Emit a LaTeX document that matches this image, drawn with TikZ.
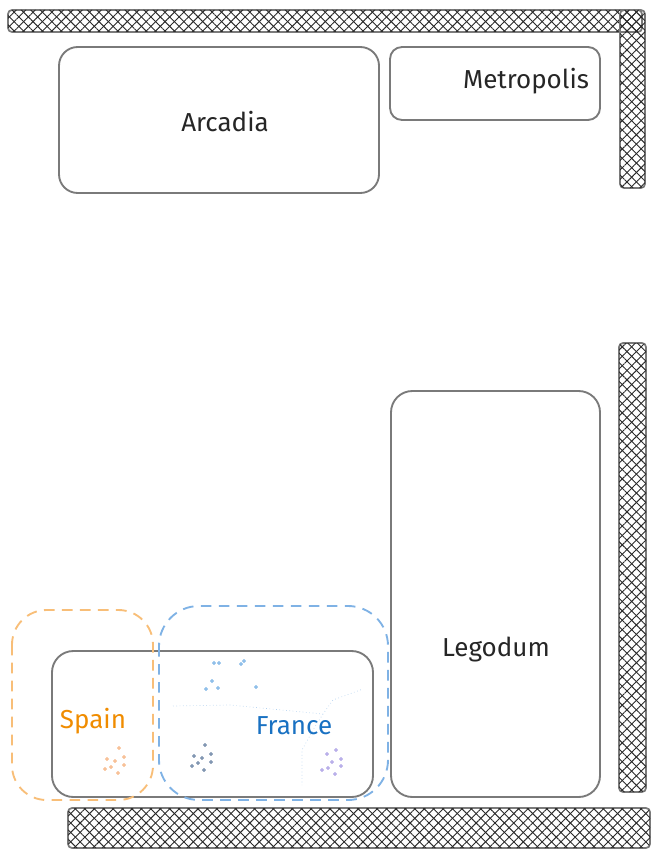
\documentclass[tikz,border=0pt]{standalone}
\usepackage{fontspec}
\setmainfont{Fira Sans}
\usetikzlibrary{patterns.meta}
\definecolor{edge}{HTML}{7A7A7A}
\definecolor{hatchc}{HTML}{2A2A2A}
\definecolor{spainc}{HTML}{F08C00}
\definecolor{francec}{HTML}{1971C2}
\definecolor{spaind}{HTML}{F8BE78}
\definecolor{franced}{HTML}{7FB2E5}
\definecolor{dotlb}{HTML}{5EA3E0}
\definecolor{dotdk}{HTML}{4A6890}
\definecolor{dotpu}{HTML}{9B8CE0}
\definecolor{dotor}{HTML}{F5A66A}
\tikzset{
  wall/.style={draw=edge, line width=1.3pt, rounded corners=3pt,
    postaction={pattern={Lines[angle=45,distance=5pt,line width=0.7pt]},pattern color=hatchc},
    postaction={pattern={Lines[angle=-45,distance=5pt,line width=0.7pt]},pattern color=hatchc}},
  room/.style={draw=edge, line width=1.4pt, rounded corners=#1},
  room/.default=18pt,
  label/.style={font=\fontsize{19.5}{22}\selectfont, text=black!85},
  region/.style={dash pattern=on 8pt off 5.5pt, line width=1.4pt, rounded corners=26pt},
  dot/.style={draw=#1, line width=0.5pt, fill=#1!40},
  divider/.style={draw=franced!60, dotted, line width=0.5pt},
}
\begin{document}
\begin{tikzpicture}[x=0.75pt, y=-0.75pt]
\useasboundingbox (0,0) rectangle (660,856);
% walls
\path[wall] (8,10) rectangle (642,32);
\path[wall] (620,10) rectangle (645,188);
\path[wall] (619,343) rectangle (646,792);
\path[wall] (68,808) rectangle (650,848);
% rooms
\draw[room=14pt] (59,47) rectangle (379,193);
\node[label] (arcadia) at (225,122) {Arcadia};
\draw[room=9pt] (390,47) rectangle (600,120);
\node[label] (metro) at (526,81) {Metropolis};
\draw[room=16pt] (391,391) rectangle (600,797);
\node[label] (legodum) at (496,650) {Legodum};
\draw[room=16pt] (52,651) rectangle (373,797);
% dividers
\coordinate (d1) at (173,706);
\coordinate (d2) at (323,714);
\coordinate (d3) at (363,689);
\coordinate (d4) at (302,785);
\draw[divider] (d1) -- (230,705) -- (d2) -- (333,700) -- (d3);
\draw[divider] (d2) -- (313,730) -- (302,750) -- (d4);
% regions
\draw[region, draw=spaind] (12,610) rectangle (153,800);
\draw[region, draw=franced, rounded corners=30pt] (159,606) rectangle (388,800);
\node[label, text=spainc] (spain) at (93,721) {Spain};
\node[label, text=francec] (france) at (294,726) {France};
% dots
\foreach \p in {(214,663),(219,663),(241,664),(244,661),(212,681),(206,689),(218,688),(256,687)}
  \draw[dot=dotlb] \p circle (1.5);
\foreach \p in {(205,745),(194,756),(202,758),(211,754),(192,766),(198,763),(211,762),(204,770)}
  \draw[dot=dotdk] \p circle (1.5);
\foreach \p in {(336,750),(327,754),(341,759),(332,762),(341,766),(328,768),(322,770),(335,774)}
  \draw[dot=dotpu] \p circle (1.5);
\foreach \p in {(119,748),(124,757),(107,759),(115,761),(124,765),(111,767),(105,769),(118,773)}
  \draw[dot=dotor] \p circle (1.5);
\end{tikzpicture}
\end{document}
